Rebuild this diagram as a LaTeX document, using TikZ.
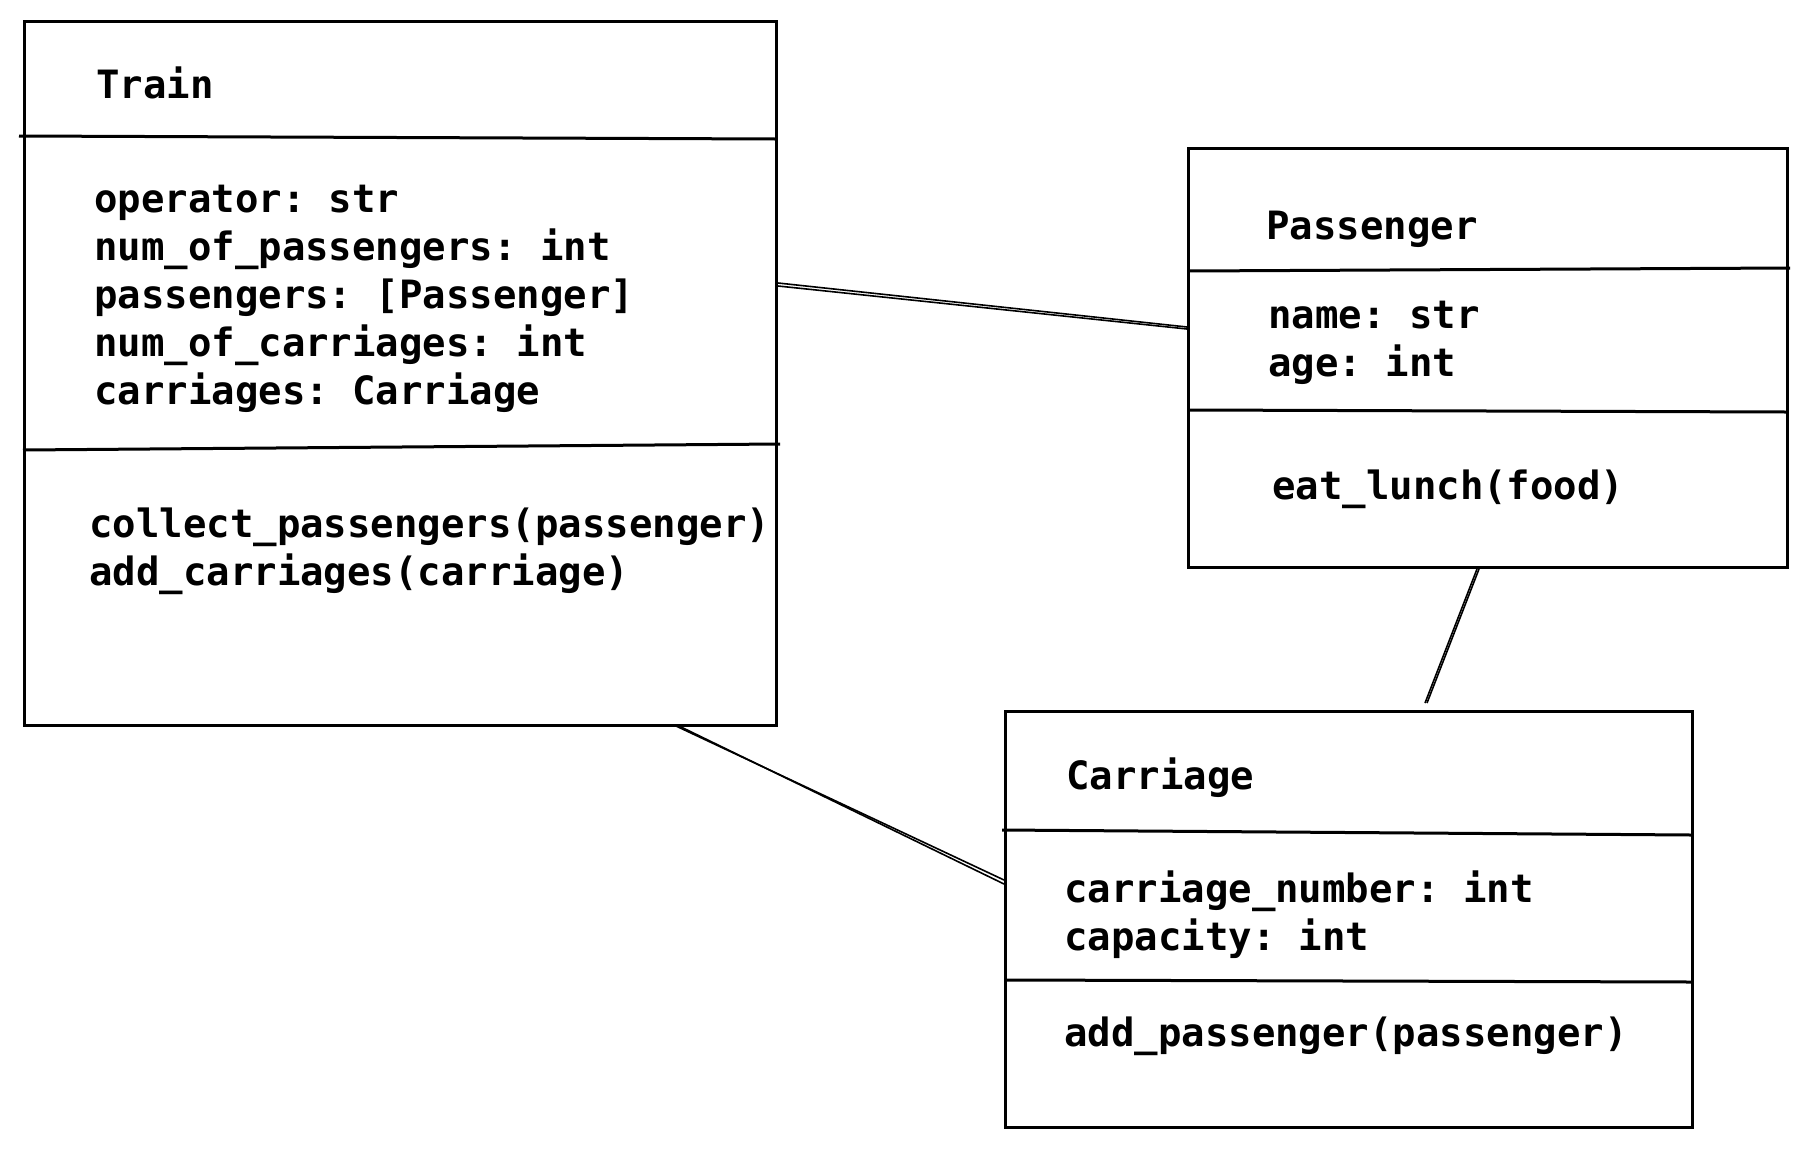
\documentclass[tikz,border=0pt]{standalone}
\usepackage{fontspec}
\setmonofont{DejaVu Sans Mono}
\begin{document}
\begin{tikzpicture}[x=1pt,y=-1pt,
  box/.style={draw=black,line width=3pt,rectangle,inner sep=0pt,anchor=north west},
  rule/.style={draw=black,line width=3pt},
  link/.style={draw=black,line width=1.6pt},
  txt/.style={anchor=base west,inner sep=0pt,font=\fontsize{39}{48}\selectfont\ttfamily\bfseries}]
\useasboundingbox[fill=white] (0,0) rectangle (1811,1148);

% Train
\node[box,minimum width=752pt,minimum height=704pt] (train) at (23,20) {};
\draw[rule] (19,136) -- (775,139);
\draw[rule] (23,450) -- (780,444);
\node[txt] (tn) at (96,98) {Train};
\node[txt] (ta1) at (94,212) {operator: str};
\node[txt] (ta2) at (94,260) {num\_of\_passengers: int};
\node[txt] (ta3) at (94,308) {passengers: [Passenger]};
\node[txt] (ta4) at (94,356) {num\_of\_carriages: int};
\node[txt] (ta5) at (94,404) {carriages: Carriage};
\node[txt] (tm1) at (89,537) {collect\_passengers(passenger)};
\node[txt] (tm2) at (89,585) {add\_carriages(carriage)};

% Passenger
\node[box,minimum width=599pt,minimum height=419pt] (pas) at (1187,147) {};
\draw[rule] (1189,271) -- (1790,268);
\draw[rule] (1190,410) -- (1786,412);
\node[txt] (pn) at (1266,239) {Passenger};
\node[txt] (pa1) at (1268,328) {name: str};
\node[txt] (pa2) at (1268,376) {age: int};
\node[txt] (pm1) at (1272,499) {eat\_lunch(food)};

% Carriage
\node[box,minimum width=687pt,minimum height=416pt] (car) at (1004,710) {};
\draw[rule] (1002,830) -- (1691,835);
\draw[rule] (1004,980) -- (1691,982);
\node[txt] (cn) at (1066,789) {Carriage};
\node[txt] (ca1) at (1064,902) {carriage\_number: int};
\node[txt] (ca2) at (1064,950) {capacity: int};
\node[txt] (cm1) at (1064,1046) {add\_passenger(passenger)};

% connectors
\coordinate (tp1) at (train.east |- 0,286);
\coordinate (tp2) at (pas.west |- 0,329);
\draw[link] (tp1) -- (tp2);
\draw[link] ([yshift=3pt]tp1) -- ([yshift=2pt]tp2);

\coordinate (tc1) at (676,726);
\coordinate (tc2) at (car.west |- 0,880);
\draw[link] (tc1) -- (tc2);
\draw[link] ([xshift=3pt]tc1) -- ([yshift=-4pt]tc2);

\coordinate (pc1) at (1477,569);
\coordinate (pc2) at (1425,703);
\draw[link] (pc1) -- (pc2);
\draw[link] ([xshift=2pt]pc1) -- ([xshift=2pt]pc2);
\end{tikzpicture}
\end{document}
